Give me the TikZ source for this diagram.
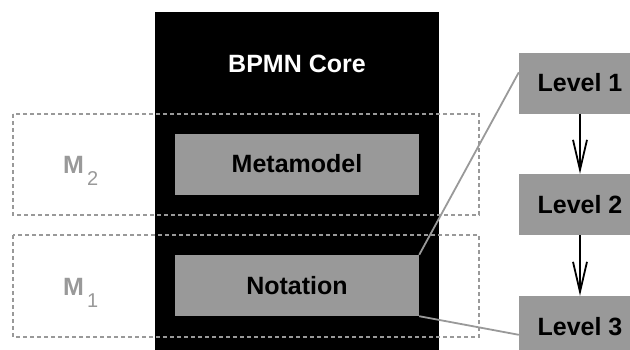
\documentclass[tikz,border=0pt]{standalone}
\usepackage{fontspec}
\setmainfont{Liberation Sans}
\usetikzlibrary{arrows.meta}
\definecolor{boxgray}{HTML}{999999}

\begin{document}
\begin{tikzpicture}[
        x=1pt, y=-1pt, font=\fontsize{25}{30}\selectfont\bfseries,
        graybox/.style={fill=boxgray, inner sep=0pt, minimum width=244pt, minimum height=61pt},
        levelbox/.style={fill=boxgray, inner sep=0pt, minimum width=122pt, minimum height=61pt},
        layerbox/.style={draw=boxgray, line width=1.8pt, dash pattern=on 4pt off 3pt},
        mlabel/.style={text=boxgray, anchor=base west, inner sep=0pt},
        zoomline/.style={draw=boxgray, line width=1.8pt},
        levelarrow/.style={line width=1.8pt, -{Straight Barb[length=30pt,width=14pt]}}]

  \useasboundingbox (0,0) rectangle (630,349);

  % core block ----------------------------------------------
  \node[fill=black, inner sep=0pt, minimum width=284pt, minimum height=345pt]
        (core) at (297,184.5) {};
  \node[text=white] (coretitle) at (297,64) {BPMN Core};
  \node[graybox] (metamodel) at (297,164) {Metamodel};
  \node[graybox] (notation)  at (297,285.5) {Notation};

  % meta layers ---------------------------------------------
  \draw[layerbox] (13,114) rectangle (479,215);
  \draw[layerbox] (13,235) rectangle (479,337);
  \node[mlabel] (mtwo) at (63,173)
        {M\hspace{3pt}\raisebox{-12pt}{\fontsize{20}{24}\selectfont\mdseries 2}};
  \node[mlabel] (mone) at (63,295)
        {M\hspace{3pt}\raisebox{-12pt}{\fontsize{20}{24}\selectfont\mdseries 1}};

  % levels --------------------------------------------------
  \node[levelbox] (lvl1) at (580,83)    {Level 1};
  \node[levelbox] (lvl2) at (580,204.5) {Level 2};
  \node[levelbox] (lvl3) at (580,326.5) {Level 3};

  \draw[levelarrow] (lvl1) -- (lvl2);
  \draw[levelarrow] (lvl2) -- (lvl3);

  \draw[zoomline] (notation.north east) -- ([yshift=-20pt]lvl1.north west);
  \draw[zoomline] (notation.south east) -- ([yshift=-39pt]lvl3.north west);

\end{tikzpicture}
\end{document}
